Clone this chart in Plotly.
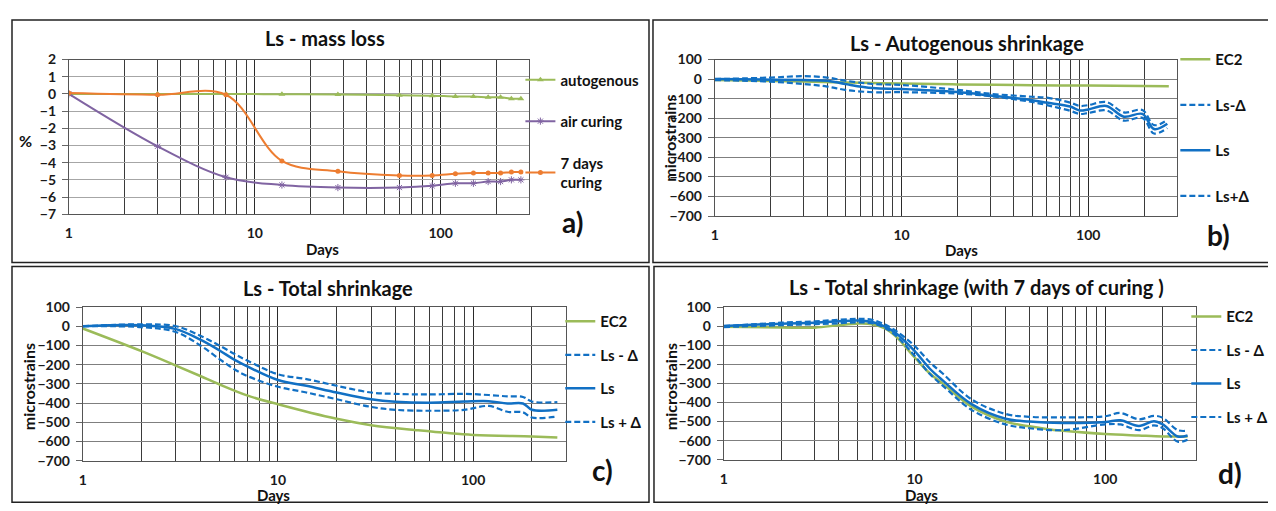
import plotly.graph_objects as go

W, H = 1276, 511
FONT = "Lato"
PAGE_OFFSET = 8  # default body margin of the html page (px)

# ---------------- Data ----------------
# a) Ls - mass loss (%)
days_a = [1, 3, 7, 14, 28, 60, 90, 120, 150, 180, 210, 240, 270]
autogenous = [0.0, 0.0, 0.0, -0.02, -0.03, -0.08, -0.1, -0.15, -0.15, -0.2, -0.2, -0.28, -0.28]
air_curing = [0.0, -3.05, -4.85, -5.3, -5.45, -5.45, -5.35, -5.2, -5.2, -5.1, -5.1, -5.0, -5.0]
cured_7d = [0.05, -0.05, -0.05, -3.9, -4.5, -4.75, -4.75, -4.65, -4.6, -4.6, -4.6, -4.55, -4.55]

# b) Ls - Autogenous shrinkage (microstrains)
days_b_ec2 = [1, 2, 3, 5, 7, 10, 20, 50, 100, 270]
ec2_b = [-5, -9, -12, -17, -20, -23, -27, -31, -33, -36]
days_b = [1, 2, 3, 4, 5, 7, 10, 20, 30, 50, 60, 80, 90, 100, 125, 155, 195, 225, 265]
ls_minus_b = [0, 8, 15, 8, -8, -25, -30, -55, -75, -90, -95, -120, -137, -133, -117, -170, -158, -235, -208]
ls_b = [0, -3, -5, -8, -25, -46, -50, -66, -84, -108, -120, -140, -160, -155, -137, -192, -178, -255, -228]
ls_plus_b = [-5, -13, -25, -38, -55, -67, -67, -74, -87, -117, -133, -162, -178, -173, -160, -212, -198, -278, -250]

# c) Ls - Total shrinkage
days_c_ec2 = [1, 2, 3, 4, 5, 7, 10, 20, 30, 50, 100, 200, 270]
ec2_c = [-12, -130, -205, -259, -302, -361, -406, -482, -515, -540, -566, -574, -579]
days_c = [1, 2, 3, 4, 5, 6, 7, 10, 14, 20, 30, 40, 60, 90, 120, 150, 180, 200, 270]
ls_minus_c = [0, 10, 0, -50, -100, -145, -180, -250, -275, -310, -345, -352, -355, -352, -358, -365, -368, -392, -395]
ls_c = [0, 5, -15, -70, -125, -175, -210, -280, -310, -345, -380, -393, -398, -392, -390, -402, -402, -435, -435]
ls_plus_c = [0, -5, -30, -100, -170, -225, -260, -315, -345, -380, -420, -435, -440, -435, -415, -445, -448, -475, -470]

# d) Ls - Total shrinkage (with 7 days of curing)
days_d_ec2 = [1, 2, 3, 4, 5, 6, 7, 8, 10, 12, 14, 20, 30, 40, 50, 60, 100, 150, 200, 270]
ec2_d = [-3, -7, -8, 5, 13, 10, -12, -55, -163, -247, -300, -423, -500, -525, -540, -548, -565, -573, -578, -578]
days_d = [1, 2, 3, 4, 5, 6, 7, 8, 10, 12, 14, 20, 30, 40, 60, 100, 120, 150, 180, 200, 240, 270]
ls_minus_d = [0, 18, 25, 33, 38, 33, 8, -25, -103, -188, -247, -385, -460, -475, -478, -472, -455, -488, -470, -480, -545, -548]
ls_d = [0, 13, 18, 25, 30, 22, -3, -37, -130, -222, -283, -410, -485, -500, -507, -502, -493, -523, -498, -515, -578, -573]
ls_plus_d = [-5, 5, 10, 15, 20, 15, -10, -50, -155, -250, -310, -440, -515, -535, -545, -515, -515, -545, -520, -535, -605, -595]

x_tickvals = [1, 10, 100]
x_ticktext = ["1", "10", "100"]
minor_vals = [2, 3, 4, 5, 6, 7, 8, 9, 20, 30, 40, 50, 60, 70, 80, 90, 200, 300]

GREEN = "#9BBB59"
BLUE = "#1170C4"
PURPLE = "#8064A2"
ORANGE = "#ED7D31"


def X(px):
    return (px - PAGE_OFFSET) / W


def Y(py):
    return 1 - (py - PAGE_OFFSET) / H


fig = go.Figure()


def spline(color, width, dash=None):
    d = dict(color=color, width=width, shape="spline", smoothing=1)
    if dash:
        d["dash"] = dash
    return d


DASH = "6px,3px"

# a
fig.add_trace(go.Scatter(x=days_a, y=autogenous, name="autogenous", mode="lines+markers",
                         line=spline(GREEN, 2), marker=dict(symbol="triangle-up", size=6, color=GREEN),
                         xaxis="x", yaxis="y", legend="legend", legendgroup="a1"))
fig.add_trace(go.Scatter(x=days_a, y=air_curing, name="air curing", mode="lines+markers",
                         line=spline(PURPLE, 2), marker=dict(symbol="asterisk-open", size=6, color=PURPLE,
                                                               line=dict(color=PURPLE, width=1)),
                         xaxis="x", yaxis="y", legend="legend", legendgroup="a2"))
fig.add_trace(go.Scatter(x=days_a, y=cured_7d, name="7 days<br>curing", mode="lines+markers",
                         line=spline(ORANGE, 2), marker=dict(symbol="circle", size=5, color=ORANGE),
                         xaxis="x", yaxis="y", legend="legend", legendgroup="a3"))

sets = [
    ("2", "legend2", days_b_ec2, ec2_b, days_b, ls_minus_b, ls_b, ls_plus_b, "Ls-\u0394", "Ls+\u0394"),
    ("3", "legend3", days_c_ec2, ec2_c, days_c, ls_minus_c, ls_c, ls_plus_c, "Ls - \u0394", "Ls + \u0394"),
    ("4", "legend4", days_d_ec2, ec2_d, days_d, ls_minus_d, ls_d, ls_plus_d, "Ls - \u0394", "Ls + \u0394"),
]
for ax, lg, dx_e, ye, dx, ym, ys, yp, nm, npl in sets:
    common = dict(xaxis="x" + ax, yaxis="y" + ax, legend=lg, mode="lines")
    fig.add_trace(go.Scatter(x=dx_e, y=ye, name="EC2", line=spline(GREEN, 2.5), legendgroup=ax + "1", **common))
    fig.add_trace(go.Scatter(x=dx, y=ym, name=nm, line=spline(BLUE, 2.2, DASH), legendgroup=ax + "2", **common))
    fig.add_trace(go.Scatter(x=dx, y=ys, name="Ls", line=spline(BLUE, 2.5), legendgroup=ax + "3", **common))
    fig.add_trace(go.Scatter(x=dx, y=yp, name=npl, line=spline(BLUE, 2.2, DASH), legendgroup=ax + "4", **common))

panels = {
    "": dict(x=(65, 527), y=(52, 212), yr=(-7, 2), dt=1, hgrid="#A6A6A6"),
    "2": dict(x=(713, 1177), y=(52, 214), yr=(-700, 100), dt=100, hgrid="#7F7F7F"),
    "3": dict(x=(79, 564), y=(308, 467), yr=(-700, 100), dt=100, hgrid="#7F7F7F"),
    "4": dict(x=(722, 1196), y=(308, 466), yr=(-700, 100), dt=100, hgrid="#7F7F7F"),
}
tickfont = dict(family=FONT, size=14, color="#1a1a1a", weight="bold")
layout_axes = {}
for k, p in panels.items():
    layout_axes["xaxis" + k] = dict(
        type="log", domain=[X(p["x"][0]), X(p["x"][1])], range=[0, 2.477],
        anchor="y" + k, tickvals=x_tickvals, ticktext=x_ticktext, tickfont=tickfont,
        showgrid=True, gridcolor="#2a2a2a", gridwidth=1,
        minor=dict(tickvals=minor_vals, showgrid=True, gridcolor="#3a3a3a", gridwidth=1, ticks=""),
        ticks="", ticklabelstandoff=6, showline=True, linecolor="#555555", linewidth=1, mirror=True,
        zeroline=False, fixedrange=True,
    )
    layout_axes["yaxis" + k] = dict(
        domain=[Y(p["y"][1]), Y(p["y"][0])], range=list(p["yr"]), dtick=p["dt"],
        anchor="x" + k, tickfont=tickfont, showgrid=True, gridcolor=p["hgrid"], gridwidth=1,
        ticks="outside", ticklen=6, tickcolor="#666666", ticklabelstandoff=3,
        showline=True, linecolor="#555555", linewidth=1, mirror=True, zeroline=False, fixedrange=True,
    )

legfont = dict(family=FONT, size=15, color="#111111", weight="bold")


def legend(xpx, ypx, gap):
    return dict(x=X(xpx), y=Y(ypx), xanchor="left", yanchor="top", bgcolor="rgba(0,0,0,0)",
                font=legfont, tracegroupgap=gap, traceorder="grouped", itemwidth=30)


ann = []


def text(s, xpx, ypx, size, angle=0):
    ann.append(dict(text=s, x=X(xpx), y=Y(ypx), xref="paper", yref="paper", showarrow=False,
                    xanchor="center", yanchor="middle", textangle=angle,
                    font=dict(family=FONT, size=size, color="#111111", weight="bold")))


text("Ls - mass loss", 322, 30, 20)
text("Ls - Autogenous shrinkage", 966, 35, 20)
text("Ls - Total shrinkage", 325, 288, 20)
text("Ls - Total shrinkage (with 7 days of curing )", 976, 287, 20)
text("%", 22, 136, 16)
text("microstrains", 668, 133, 16, -90)
text("microstrains", 24, 390, 16, -90)
text("microstrains", 668, 390, 16, -90)
text("Days", 319, 248, 15)
text("Days", 960, 249, 15)
text("Days", 270, 502, 15)
text("Days", 920, 502, 15)
text("a)", 570, 220, 28)
text("b)", 1218, 234, 28)
text("c)", 600, 477, 28)
text("d)", 1230, 480, 28)

shapes = []
for x0, y0, x1, y1 in [(8, 11, 647, 262), (651, 11, 1274, 262), (8, 266, 647, 510), (652, 266, 1274, 510)]:
    shapes.append(dict(type="rect", xref="paper", yref="paper", x0=X(x0), x1=X(x1), y0=Y(y1), y1=Y(y0),
                       line=dict(color="#222222", width=1.5), fillcolor="rgba(0,0,0,0)", layer="below"))

fig.update_layout(
    width=W, height=H, margin=dict(l=0, r=0, t=0, b=0),
    paper_bgcolor="white", plot_bgcolor="white",
    font=dict(family=FONT, color="#111111"),
    showlegend=True,
    legend=legend(518, 56, 19),
    legend2=legend(1175, 35, 23),
    legend3=legend(558, 306, 11),
    legend4=legend(1186, 301, 11),
    annotations=ann, shapes=shapes,
    **layout_axes,
)

fig.write_html("out.html", config={"displayModeBar": False})
